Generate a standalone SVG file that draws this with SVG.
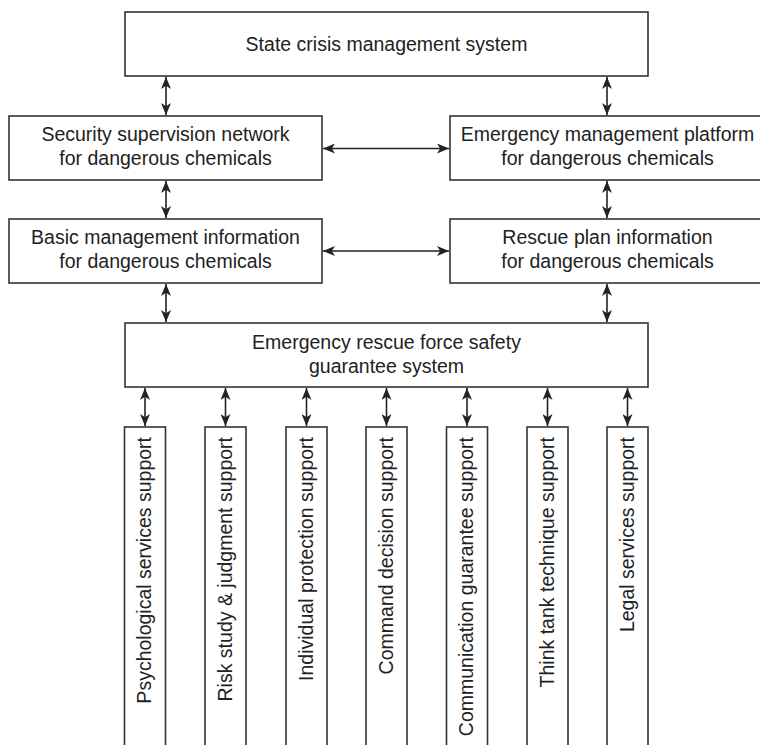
<svg xmlns="http://www.w3.org/2000/svg" width="760" height="745" viewBox="0 0 760 745">
  <style>
    .box { fill: #ffffff; stroke: #333333; stroke-width: 1.6; }
    .lbl { font-family: "Liberation Sans", Arial, sans-serif; font-size: 19.5px; fill: #222222; text-anchor: middle; }
    .vlbl { font-family: "Liberation Sans", Arial, sans-serif; font-size: 19.5px; fill: #222222; text-anchor: end; }
    .link { stroke: #222222; stroke-width: 1.6; fill: none; marker-start: url(#head); marker-end: url(#head); }
  </style>
  <defs>
    <marker id="head" viewBox="0 0 12 10" refX="12" refY="5" markerWidth="12" markerHeight="10" markerUnits="userSpaceOnUse" orient="auto-start-reverse">
      <path d="M0,0 L12,5 L0,10 L3.2,5 Z" fill="#222222"/>
    </marker>
  </defs>
  <rect width="760" height="745" fill="#ffffff"/>

  <!-- top level -->
  <g id="state-crisis">
    <rect class="box" x="125" y="12" width="523" height="64"/>
    <text class="lbl" x="386.5" y="50.5">State crisis management system</text>
  </g>

  <!-- second row -->
  <g id="security-network">
    <rect class="box" x="9" y="116" width="313" height="64"/>
    <text class="lbl" x="165.5" y="141">Security supervision network</text>
    <text class="lbl" x="165.5" y="165">for dangerous chemicals</text>
  </g>
  <g id="emergency-platform">
    <rect class="box" x="450" y="116" width="330" height="64"/>
    <text class="lbl" x="607.5" y="141">Emergency management platform</text>
    <text class="lbl" x="607.5" y="165">for dangerous chemicals</text>
  </g>

  <!-- third row -->
  <g id="basic-info">
    <rect class="box" x="9" y="219" width="313" height="64"/>
    <text class="lbl" x="165.5" y="244">Basic management information</text>
    <text class="lbl" x="165.5" y="268">for dangerous chemicals</text>
  </g>
  <g id="rescue-plan">
    <rect class="box" x="450" y="219" width="330" height="64"/>
    <text class="lbl" x="607.5" y="244">Rescue plan information</text>
    <text class="lbl" x="607.5" y="268">for dangerous chemicals</text>
  </g>

  <!-- guarantee system -->
  <g id="rescue-force">
    <rect class="box" x="125" y="323" width="523" height="64"/>
    <text class="lbl" x="386.5" y="349">Emergency rescue force safety</text>
    <text class="lbl" x="386.5" y="373">guarantee system</text>
  </g>

  <!-- support columns -->
  <g id="psychological">
    <rect class="box" x="124.5" y="427" width="41" height="340"/>
    <text class="vlbl" transform="translate(151,437) rotate(-90)">Psychological services support</text>
  </g>
  <g id="risk-study">
    <rect class="box" x="205" y="427" width="41" height="340"/>
    <text class="vlbl" transform="translate(231.5,437) rotate(-90)">Risk study &amp; judgment support</text>
  </g>
  <g id="individual-protection">
    <rect class="box" x="286" y="427" width="41" height="340"/>
    <text class="vlbl" transform="translate(312.5,437) rotate(-90)">Individual protection support</text>
  </g>
  <g id="command-decision">
    <rect class="box" x="366" y="427" width="41" height="340"/>
    <text class="vlbl" transform="translate(392.5,437) rotate(-90)">Command decision support</text>
  </g>
  <g id="communication">
    <rect class="box" x="446.5" y="427" width="41" height="340"/>
    <text class="vlbl" transform="translate(473,437) rotate(-90)">Communication guarantee support</text>
  </g>
  <g id="think-tank">
    <rect class="box" x="527" y="427" width="41" height="340"/>
    <text class="vlbl" transform="translate(553.5,437) rotate(-90)">Think tank technique support</text>
  </g>
  <g id="legal-services">
    <rect class="box" x="607" y="427" width="41" height="340"/>
    <text class="vlbl" transform="translate(633.5,437) rotate(-90)">Legal services support</text>
  </g>

  <!-- connectors -->
  <g id="connectors">
    <line class="link" x1="166" y1="77" x2="166" y2="115"/>
    <line class="link" x1="607" y1="77" x2="607" y2="115"/>
    <line class="link" x1="323" y1="148.5" x2="449" y2="148.5"/>
    <line class="link" x1="166" y1="181" x2="166" y2="218"/>
    <line class="link" x1="607" y1="181" x2="607" y2="218"/>
    <line class="link" x1="323" y1="251" x2="449" y2="251"/>
    <line class="link" x1="166" y1="284" x2="166" y2="322"/>
    <line class="link" x1="607" y1="284" x2="607" y2="322"/>
    <line class="link" x1="145" y1="388" x2="145" y2="426"/>
    <line class="link" x1="225.5" y1="388" x2="225.5" y2="426"/>
    <line class="link" x1="306.5" y1="388" x2="306.5" y2="426"/>
    <line class="link" x1="386.5" y1="388" x2="386.5" y2="426"/>
    <line class="link" x1="467" y1="388" x2="467" y2="426"/>
    <line class="link" x1="547.5" y1="388" x2="547.5" y2="426"/>
    <line class="link" x1="627.5" y1="388" x2="627.5" y2="426"/>
  </g>
</svg>
